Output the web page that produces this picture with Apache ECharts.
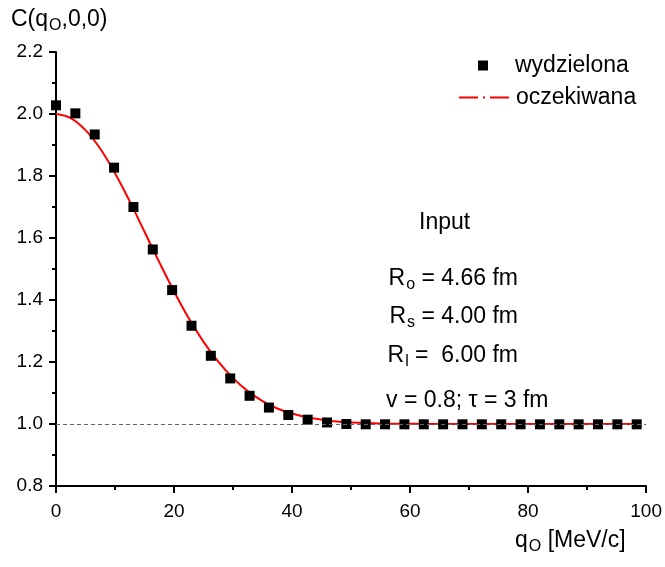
<!DOCTYPE html>
<html>
<head>
<meta charset="utf-8">
<script src="https://cdn.jsdelivr.net/npm/echarts@6/dist/echarts.min.js"></script>
<style>html,body{margin:0;padding:0;background:#fff}#c{width:665px;height:567px}</style>
</head>
<body>
<div id="c"></div>
<script>
// measured points ("wydzielona")
const pointX = [0,3.28,6.56,9.84,13.12,16.4,19.68,22.96,26.24,29.52,32.8,36.08,39.36,42.64,45.92,49.2,52.48,55.76,59.04,62.32,65.6,68.88,72.16,75.44,78.72,82.0,85.28,88.56,91.84,95.12,98.4];
const pointY = [2.028,2.002,1.934,1.827,1.700,1.563,1.432,1.317,1.220,1.147,1.091,1.053,1.029,1.014,1.005,1.000,0.999,0.999,0.999,0.999,0.999,0.999,0.999,0.999,0.999,0.999,0.999,0.999,0.999,0.999,0.999];
// expected curve ("oczekiwana")
const curveX = [0,2.5,5,7.5,10,12.5,15,17.5,20,22.5,25,27.5,30,32.5,35,37.5,40,42.5,45,47.5,50,55,60,70,80,90,98.4];
const curveY = [2.000,1.987,1.948,1.888,1.809,1.718,1.620,1.522,1.428,1.341,1.265,1.201,1.148,1.106,1.074,1.050,1.034,1.022,1.014,1.008,1.005,1.002,1.001,1.000,1.000,1.000,1.000];
const xTicks = {min:0, max:100, interval:20};
const yTicks = {min:0.8, max:2.2, interval:0.2};

const chart = echarts.init(document.getElementById('c'), null, {renderer:'canvas'});
const FONT = 'Liberation Sans, Arial, sans-serif';
const axisCommon = {
  axisLine:{lineStyle:{color:'#000', width:2}},
  axisTick:{show:true, inside:false, length:7, lineStyle:{color:'#000', width:2}},
  minorTick:{show:true, splitNumber:2, length:4, lineStyle:{color:'#000', width:2}},
  splitLine:{show:false},
  axisLabel:{color:'#000', fontSize:19, fontFamily:FONT}
};
const sub = {fontSize:16, fontFamily:FONT, color:'#000', padding:[12,0,0,1]};
const TXT = '23px '+FONT;
chart.setOption({
  animation:false,
  backgroundColor:'#fff',
  grid:{left:56, right:17, top:52, bottom:81, containLabel:false},
  xAxis:Object.assign({type:'value', min:xTicks.min, max:xTicks.max, interval:xTicks.interval}, axisCommon,
    {axisLabel:Object.assign({}, axisCommon.axisLabel, {margin:16})}),
  yAxis:Object.assign({type:'value', min:yTicks.min, max:yTicks.max, interval:yTicks.interval}, axisCommon,
    {axisLabel:Object.assign({}, axisCommon.axisLabel, {margin:13, formatter:v=>v.toFixed(1)})}),
  legend:[
    {orient:'vertical', left:473, top:49, itemWidth:10, itemHeight:10,
     textStyle:{fontSize:23, fontFamily:FONT, color:'#000', padding:[0,0,0,22]},
     data:[{name:'wydzielona', icon:'rect', itemStyle:{color:'#000', opacity:1}}]},
    {orient:'vertical', left:453, top:81, itemWidth:50, itemHeight:10,
     textStyle:{fontSize:23, fontFamily:FONT, color:'#000', padding:[0,0,0,2]},
     data:[{name:'oczekiwana', itemStyle:{opacity:0}, lineStyle:{type:[19,5,2,5], width:2, color:'#ff0000'}}]}
  ],
  series:[
    {name:'oczekiwana', type:'line', data:curveX.map((x,i)=>[x,curveY[i]]), smooth:0.4, symbol:'none',
     lineStyle:{color:'#ff0000', width:2}, itemStyle:{color:'#ff0000'}, z:3,
     markLine:{silent:true, symbol:'none', label:{show:false}, lineStyle:{color:'#666', type:[4,3], width:1},
       data:[{yAxis:1.0}]}},
    {name:'wydzielona', type:'scatter', data:pointX.map((x,i)=>[x,pointY[i]]), symbol:'rect', symbolSize:10,
     itemStyle:{color:'#000', opacity:1}, z:4}
  ],
  graphic:[
    {type:'text', left:11, top:8, style:{text:'C(q{s|O},0,0)', rich:{s:sub}, font:TXT, fill:'#000'}},
    {type:'text', left:515, top:529, style:{text:'q{s|O} [MeV/c]', rich:{s:sub}, font:TXT, fill:'#000'}},
    {type:'text', left:419, top:211, style:{text:'Input', font:TXT, fill:'#000'}},
    {type:'text', right:147, top:267, style:{text:'R{s|o} = 4.66 fm', rich:{s:sub}, font:TXT, fill:'#000'}},
    {type:'text', right:147, top:305, style:{text:'R{s|s} = 4.00 fm', rich:{s:sub}, font:TXT, fill:'#000'}},
    {type:'text', right:147, top:344, style:{text:'R{s|l} =  6.00 fm', rich:{s:sub}, font:TXT, fill:'#000'}},
    {type:'text', left:386, top:389, style:{text:'v = 0.8; τ = 3 fm', font:TXT, fill:'#000'}}
  ]
});
</script>
</body>
</html>
